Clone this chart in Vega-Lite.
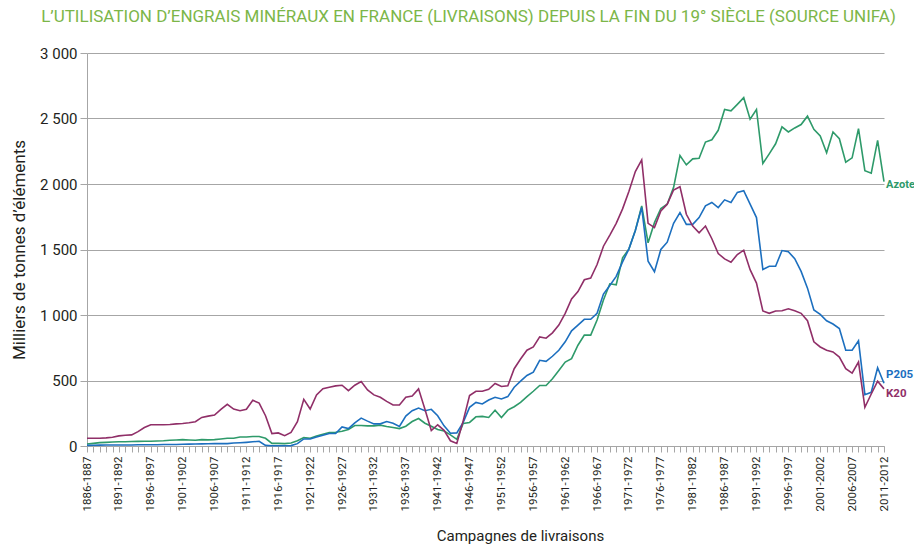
{
  "$schema": "https://vega.github.io/schema/vega-lite/v6.json",
  "width": 797,
  "height": 393,
  "autosize": {"type": "none"},
  "padding": {"left": 87, "top": 53, "right": 30, "bottom": 103},
  "background": "white",
  "title": {
    "text": "L’UTILISATION D’ENGRAIS MINÉRAUX EN FRANCE (LIVRAISONS) DEPUIS LA FIN DU 19° SIÈCLE (SOURCE UNIFA)",
    "color": "#7cb648",
    "font": "Roboto",
    "fontSize": 17,
    "fontWeight": "normal",
    "anchor": "middle",
    "offset": 20,
    "dx": -17
  },
  "config": {
    "view": {"stroke": null},
    "font": "Roboto"
  },
  "data": {
    "values": [
      {"campagne":"1886-1887","Azote":15,"P205":5,"K20":59},
      {"campagne":"1887-1888","Azote":20,"P205":6,"K20":59},
      {"campagne":"1888-1889","Azote":26,"P205":7,"K20":59},
      {"campagne":"1889-1890","Azote":28,"P205":8,"K20":62},
      {"campagne":"1890-1891","Azote":30,"P205":8,"K20":67},
      {"campagne":"1891-1892","Azote":33,"P205":8,"K20":77},
      {"campagne":"1892-1893","Azote":33,"P205":8,"K20":82},
      {"campagne":"1893-1894","Azote":34,"P205":8,"K20":85},
      {"campagne":"1894-1895","Azote":35,"P205":9,"K20":110},
      {"campagne":"1895-1896","Azote":36,"P205":9,"K20":141},
      {"campagne":"1896-1897","Azote":36,"P205":10,"K20":162},
      {"campagne":"1897-1898","Azote":38,"P205":10,"K20":162},
      {"campagne":"1898-1899","Azote":40,"P205":11,"K20":162},
      {"campagne":"1899-1900","Azote":44,"P205":12,"K20":164},
      {"campagne":"1900-1901","Azote":46,"P205":12,"K20":169},
      {"campagne":"1901-1902","Azote":49,"P205":13,"K20":172},
      {"campagne":"1902-1903","Azote":46,"P205":14,"K20":177},
      {"campagne":"1903-1904","Azote":44,"P205":15,"K20":185},
      {"campagne":"1904-1905","Azote":49,"P205":16,"K20":218},
      {"campagne":"1905-1906","Azote":47,"P205":17,"K20":228},
      {"campagne":"1906-1907","Azote":49,"P205":18,"K20":236},
      {"campagne":"1907-1908","Azote":54,"P205":18,"K20":280},
      {"campagne":"1908-1909","Azote":59,"P205":18,"K20":318},
      {"campagne":"1909-1910","Azote":59,"P205":23,"K20":282},
      {"campagne":"1910-1911","Azote":69,"P205":25,"K20":269},
      {"campagne":"1911-1912","Azote":69,"P205":28,"K20":280},
      {"campagne":"1912-1913","Azote":72,"P205":32,"K20":349},
      {"campagne":"1913-1914","Azote":72,"P205":36,"K20":328},
      {"campagne":"1914-1915","Azote":59,"P205":5,"K20":231},
      {"campagne":"1915-1916","Azote":20,"P205":2,"K20":95},
      {"campagne":"1916-1917","Azote":20,"P205":2,"K20":100},
      {"campagne":"1917-1918","Azote":18,"P205":2,"K20":79},
      {"campagne":"1918-1919","Azote":23,"P205":3,"K20":103},
      {"campagne":"1919-1920","Azote":40,"P205":18,"K20":185},
      {"campagne":"1920-1921","Azote":64,"P205":54,"K20":356},
      {"campagne":"1921-1922","Azote":59,"P205":54,"K20":282},
      {"campagne":"1922-1923","Azote":77,"P205":69,"K20":390},
      {"campagne":"1923-1924","Azote":90,"P205":82,"K20":438},
      {"campagne":"1924-1925","Azote":103,"P205":95,"K20":449},
      {"campagne":"1925-1926","Azote":105,"P205":95,"K20":459},
      {"campagne":"1926-1927","Azote":113,"P205":146,"K20":464},
      {"campagne":"1927-1928","Azote":126,"P205":133,"K20":423},
      {"campagne":"1928-1929","Azote":156,"P205":177,"K20":464},
      {"campagne":"1929-1930","Azote":156,"P205":213,"K20":492},
      {"campagne":"1930-1931","Azote":154,"P205":190,"K20":428},
      {"campagne":"1931-1932","Azote":154,"P205":169,"K20":390},
      {"campagne":"1932-1933","Azote":159,"P205":169,"K20":372},
      {"campagne":"1933-1934","Azote":149,"P205":187,"K20":341},
      {"campagne":"1934-1935","Azote":141,"P205":174,"K20":313},
      {"campagne":"1935-1936","Azote":133,"P205":149,"K20":313},
      {"campagne":"1936-1937","Azote":151,"P205":228,"K20":372},
      {"campagne":"1937-1938","Azote":187,"P205":269,"K20":382},
      {"campagne":"1938-1939","Azote":210,"P205":290,"K20":436},
      {"campagne":"1939-1940","Azote":174,"P205":269,"K20":280},
      {"campagne":"1940-1941","Azote":151,"P205":280,"K20":118},
      {"campagne":"1941-1942","Azote":126,"P205":231,"K20":162},
      {"campagne":"1942-1943","Azote":115,"P205":154,"K20":120},
      {"campagne":"1943-1944","Azote":85,"P205":97,"K20":40},
      {"campagne":"1944-1945","Azote":51,"P205":100,"K20":20},
      {"campagne":"1945-1946","Azote":172,"P205":180,"K20":192},
      {"campagne":"1946-1947","Azote":180,"P205":295,"K20":385},
      {"campagne":"1947-1948","Azote":223,"P205":333,"K20":418},
      {"campagne":"1948-1949","Azote":226,"P205":321,"K20":418},
      {"campagne":"1949-1950","Azote":218,"P205":351,"K20":433},
      {"campagne":"1950-1951","Azote":274,"P205":372,"K20":477},
      {"campagne":"1951-1952","Azote":218,"P205":359,"K20":454},
      {"campagne":"1952-1953","Azote":274,"P205":377,"K20":459},
      {"campagne":"1953-1954","Azote":300,"P205":449,"K20":590},
      {"campagne":"1954-1955","Azote":333,"P205":495,"K20":664},
      {"campagne":"1955-1956","Azote":377,"P205":538,"K20":731},
      {"campagne":"1956-1957","Azote":418,"P205":564,"K20":756},
      {"campagne":"1957-1958","Azote":462,"P205":654,"K20":833},
      {"campagne":"1958-1959","Azote":462,"P205":646,"K20":823},
      {"campagne":"1959-1960","Azote":513,"P205":685,"K20":864},
      {"campagne":"1960-1961","Azote":577,"P205":731,"K20":923},
      {"campagne":"1961-1962","Azote":641,"P205":795,"K20":1013},
      {"campagne":"1962-1963","Azote":667,"P205":879,"K20":1123},
      {"campagne":"1963-1964","Azote":769,"P205":923,"K20":1179},
      {"campagne":"1964-1965","Azote":846,"P205":967,"K20":1269},
      {"campagne":"1965-1966","Azote":846,"P205":967,"K20":1282},
      {"campagne":"1966-1967","Azote":962,"P205":1013,"K20":1385},
      {"campagne":"1967-1968","Azote":1115,"P205":1160,"K20":1525},
      {"campagne":"1968-1969","Azote":1238,"P205":1225,"K20":1610},
      {"campagne":"1969-1970","Azote":1231,"P205":1295,"K20":1700},
      {"campagne":"1970-1971","Azote":1436,"P205":1405,"K20":1810},
      {"campagne":"1971-1972","Azote":1505,"P205":1505,"K20":1945},
      {"campagne":"1972-1973","Azote":1645,"P205":1645,"K20":2095},
      {"campagne":"1973-1974","Azote":1833,"P205":1820,"K20":2184},
      {"campagne":"1974-1975","Azote":1551,"P205":1410,"K20":1700},
      {"campagne":"1975-1976","Azote":1705,"P205":1330,"K20":1667},
      {"campagne":"1976-1977","Azote":1813,"P205":1500,"K20":1795},
      {"campagne":"1977-1978","Azote":1846,"P205":1556,"K20":1846},
      {"campagne":"1978-1979","Azote":1974,"P205":1700,"K20":1954},
      {"campagne":"1979-1980","Azote":2218,"P205":1782,"K20":1979},
      {"campagne":"1980-1981","Azote":2146,"P205":1692,"K20":1769},
      {"campagne":"1981-1982","Azote":2192,"P205":1692,"K20":1679},
      {"campagne":"1982-1983","Azote":2197,"P205":1744,"K20":1628},
      {"campagne":"1983-1984","Azote":2320,"P205":1833,"K20":1679},
      {"campagne":"1984-1985","Azote":2338,"P205":1859,"K20":1582},
      {"campagne":"1985-1986","Azote":2410,"P205":1820,"K20":1469},
      {"campagne":"1986-1987","Azote":2569,"P205":1879,"K20":1428},
      {"campagne":"1987-1988","Azote":2559,"P205":1859,"K20":1403},
      {"campagne":"1988-1989","Azote":2608,"P205":1936,"K20":1462},
      {"campagne":"1989-1990","Azote":2659,"P205":1949,"K20":1495},
      {"campagne":"1990-1991","Azote":2495,"P205":1846,"K20":1346},
      {"campagne":"1991-1992","Azote":2569,"P205":1744,"K20":1244},
      {"campagne":"1992-1993","Azote":2156,"P205":1348,"K20":1031},
      {"campagne":"1993-1994","Azote":2230,"P205":1372,"K20":1013},
      {"campagne":"1994-1995","Azote":2307,"P205":1372,"K20":1031},
      {"campagne":"1995-1996","Azote":2436,"P205":1492,"K20":1033},
      {"campagne":"1996-1997","Azote":2397,"P205":1483,"K20":1047},
      {"campagne":"1997-1998","Azote":2428,"P205":1430,"K20":1033},
      {"campagne":"1998-1999","Azote":2454,"P205":1333,"K20":1013},
      {"campagne":"1999-2000","Azote":2518,"P205":1205,"K20":956},
      {"campagne":"2000-2001","Azote":2418,"P205":1038,"K20":795},
      {"campagne":"2001-2002","Azote":2367,"P205":1005,"K20":756},
      {"campagne":"2002-2003","Azote":2238,"P205":956,"K20":731},
      {"campagne":"2003-2004","Azote":2397,"P205":931,"K20":718},
      {"campagne":"2004-2005","Azote":2346,"P205":897,"K20":679},
      {"campagne":"2005-2006","Azote":2166,"P205":731,"K20":590},
      {"campagne":"2006-2007","Azote":2200,"P205":731,"K20":556},
      {"campagne":"2007-2008","Azote":2423,"P205":803,"K20":641},
      {"campagne":"2008-2009","Azote":2102,"P205":392,"K20":295},
      {"campagne":"2009-2010","Azote":2082,"P205":410,"K20":397},
      {"campagne":"2010-2011","Azote":2333,"P205":597,"K20":495},
      {"campagne":"2011-2012","Azote":2018,"P205":479,"K20":436}
    ]
  },
  "encoding": {
    "x": {
      "field": "campagne",
      "type": "ordinal",
      "sort": null,
      "scale": {"type": "point", "padding": 0},
      "axis": {
        "title": "Campagnes de livraisons",
        "titleFontSize": 15,
        "titleFontWeight": "normal",
        "titleColor": "#231f20",
        "titlePadding": 18,
        "titleX": 433,
        "labelAngle": -90,
        "labelFontSize": 11.5,
        "labelColor": "#231f20",
        "labelPadding": 4,
        "labelOverlap": false,
        "labelExpr": "(toNumber(substring(datum.value,0,4)) - 1886) % 5 === 0 ? datum.value : ''",
        "tickColor": "#a6a6a6",
        "tickSize": 6,
        "domainColor": "#a6a6a6",
        "grid": false
      }
    }
  },
  "layer": [
    {
      "transform": [{"fold": ["Azote", "P205", "K20"], "as": ["element", "valeur"]}],
      "mark": {"type": "line", "strokeWidth": 1.6},
      "encoding": {
        "y": {
          "field": "valeur",
          "type": "quantitative",
          "scale": {"domain": [0, 3000]},
          "axis": {
            "title": "Milliers de tonnes d’éléments",
            "titleFontSize": 17,
            "titleFontWeight": "normal",
            "titleColor": "#231f20",
            "titlePadding": 11,
            "values": [0, 500, 1000, 1500, 2000, 2500, 3000],
            "labelExpr": "replace(format(datum.value, ','), ',', ' ')",
            "labelFontSize": 15,
            "labelColor": "#231f20",
            "labelPadding": 3,
            "tickColor": "#a6a6a6",
            "tickSize": 7,
            "domainColor": "#a6a6a6",
            "gridColor": "#a6a6a6",
            "gridWidth": 1
          }
        },
        "color": {
          "field": "element",
          "type": "nominal",
          "scale": {"domain": ["Azote", "P205", "K20"], "range": ["#2e9a6a", "#1c6fbf", "#902f68"]},
          "legend": null
        }
      }
    },
    {
      "transform": [{"filter": "datum.campagne === '2011-2012'"}],
      "mark": {"type": "text", "align": "left", "dx": 2, "dy": 3, "fontWeight": "bold", "fontSize": 11, "color": "#2e9a6a"},
      "encoding": {"y": {"field": "Azote", "type": "quantitative"}, "text": {"value": "Azote"}}
    },
    {
      "transform": [{"filter": "datum.campagne === '2011-2012'"}],
      "mark": {"type": "text", "align": "left", "dx": 2, "dy": -8, "fontWeight": "bold", "fontSize": 11.5, "color": "#1c6fbf"},
      "encoding": {"y": {"field": "P205", "type": "quantitative"}, "text": {"value": "P205"}}
    },
    {
      "transform": [{"filter": "datum.campagne === '2011-2012'"}],
      "mark": {"type": "text", "align": "left", "dx": 2, "dy": 5, "fontWeight": "bold", "fontSize": 11.5, "color": "#902f68"},
      "encoding": {"y": {"field": "K20", "type": "quantitative"}, "text": {"value": "K20"}}
    }
  ],
  "resolve": {"scale": {"y": "shared"}}
}
